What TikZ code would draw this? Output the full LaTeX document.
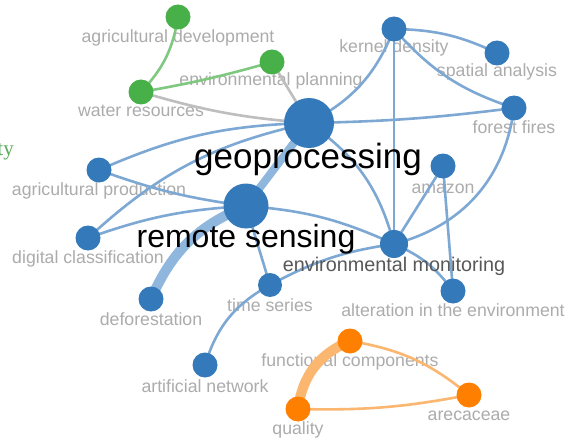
\documentclass[tikz,border=0pt]{standalone}
\usepackage{fontspec}
\setmainfont{Liberation Sans}
\setsansfont{Liberation Sans}
\newfontfamily\serifgreen{Liberation Serif}
\definecolor{nblue}{RGB}{52,122,186}
\definecolor{eblue}{RGB}{125,168,212}
\definecolor{ethick}{RGB}{143,183,222}
\definecolor{ngreen}{RGB}{72,176,72}
\definecolor{egreen}{RGB}{128,200,128}
\definecolor{egray}{RGB}{190,190,190}
\definecolor{norange}{RGB}{255,128,0}
\definecolor{eorange}{RGB}{251,182,112}
\definecolor{lgray}{RGB}{172,172,172}
\definecolor{ldark}{RGB}{88,88,88}
\definecolor{tgreen}{RGB}{92,170,92}
\pgfdeclarelayer{paper}
\pgfdeclarelayer{labels}
\pgfdeclarelayer{edges}
\pgfdeclarelayer{top}
\pgfsetlayers{paper,labels,edges,main,top}
\begin{document}
\begin{tikzpicture}[x=1pt,y=1pt,
  dot/.style={circle,inner sep=0pt,minimum size=25pt},
  bdot/.style={dot,fill=nblue},
  gdot/.style={dot,fill=ngreen},
  odot/.style={dot,fill=norange},
  lab/.style={text=lgray,anchor=base,inner sep=0pt,font=\fontsize{17.7}{20}\selectfont},
  biglab/.style={text=black,anchor=base,inner sep=0pt},
  be/.style={draw=eblue,line width=2.6pt},
  bthick/.style={draw=ethick,line width=#1},
  ge/.style={draw=egreen,line width=2.6pt},
  gye/.style={draw=egray,line width=2.6pt},
  oe/.style={draw=eorange,line width=2.6pt},
  othick/.style={draw=eorange,line width=10pt}]
\useasboundingbox (0,0) rectangle (568,-444);
\clip (0,0) rectangle (568,-444);
\begin{pgfonlayer}{paper}
\fill[white] (0,0) rectangle (568,-444);
\end{pgfonlayer}

% nodes
\node[gdot] (agdev) at (178,-17) {};
\node[gdot] (envpl) at (272,-62) {};
\node[gdot] (water) at (141,-92) {};
\node[bdot,minimum size=50pt] (geo) at (309,-123) {};
\node[bdot] (kd) at (394,-29) {};
\node[bdot] (sa) at (497,-53) {};
\node[bdot] (ff) at (514,-108) {};
\node[bdot] (amz) at (443,-166) {};
\node[bdot] (agprod) at (99,-170) {};
\node[bdot,minimum size=45pt] (rs) at (246,-206) {};
\node[bdot] (dc) at (88,-238) {};
\node[bdot,minimum size=28pt] (em) at (394,-244) {};
\node[bdot] (alt) at (453,-291) {};
\node[bdot,minimum size=24pt] (ts) at (270,-285) {};
\node[bdot] (def) at (151,-299) {};
\node[bdot] (an) at (205,-365) {};
\node[odot] (fc) at (350,-341) {};
\node[odot] (are) at (469,-395) {};
\node[odot] (qual) at (298,-409) {};

% labels (under edges)
\begin{pgfonlayer}{labels}
\node[lab] (l-agdev) at (178,-43) {agricultural development};
\node[lab] (l-envpl) at (271,-86) {environmental planning};
\node[lab] (l-water) at (141,-117) {water resources};
\node[lab] (l-kd) at (394,-53) {kernel density};
\node[lab] (l-sa) at (497,-77) {spatial analysis};
\node[lab] (l-ff) at (514,-133) {forest fires};
\node[lab] (l-amz) at (443,-193) {amazon};
\node[lab] (l-agprod) at (99,-195) {agricultural production};
\node[lab] (l-dc) at (88,-263) {digital classification};
\node[lab] (l-alt) at (453,-316) {alteration in the environment};
\node[lab] (l-ts) at (270,-311) {time series};
\node[lab] (l-def) at (151,-325) {deforestation};
\node[lab] (l-an) at (205,-392) {artificial network};
\node[lab] (l-fc) at (350,-366) {functional components};
\node[lab] (l-are) at (469,-420) {arecaceae};
\node[lab] (l-qual) at (298,-434) {quality};
\node[text=tgreen,anchor=base east,inner sep=0pt,font=\serifgreen\fontsize{21}{24}\selectfont] (l-ty) at (14,-155) {ty};
\end{pgfonlayer}

% edges
\begin{pgfonlayer}{edges}
\draw[ge] (water.center) to[bend right=17] (agdev.center);
\draw[ge] (water.center) to[bend right=3] (envpl.center);
\draw[gye] (water.center) to[bend right=6] (geo.center);
\draw[gye] (envpl.center) -- (geo.center);
\draw[be] (geo.center) to[bend right=20] (kd.center);
\draw[be] (geo.center) to[bend right=3] (ff.center);
\draw[be] (geo.center) to[bend left=20] (em.center);
\draw[be] (agprod.center) to[bend left=11] (geo.center);
\draw[be] (dc.center) to[bend left=15] (geo.center);
\draw[be] (agprod.center) to[bend right=6] (rs.center);
\draw[be] (dc.center) to[bend left=8] (rs.center);
\draw[be] (kd.center) to[bend left=12] (sa.center);
\draw[be] (kd.center) to[bend right=15] (ff.center);
\draw[be] (kd.center) -- (em.center);
\draw[be] (ff.center) to[bend left=34] (em.center);
\draw[be] (amz.center) -- (em.center);
\draw[be] (amz.center) -- (alt.center);
\draw[be] (em.center) to[bend left=15] (alt.center);
\draw[be] (rs.center) to[bend left=10] (em.center);
\draw[be] (ts.center) to[bend left=10] (em.center);
\draw[be] (rs.center) -- (ts.center);
\draw[be] (ts.center) to[bend right=22] (an.center);
\draw[bthick=10pt] (def.center) to[bend left=22] (rs.center);
\draw[bthick=8pt] (rs.center) -- (geo.center);
\draw[othick] (fc.center) to[bend right=30] (qual.center);
\draw[oe] (fc.center) to[bend left=15] (are.center);
\draw[oe] (qual.center) to[bend right=6] (are.center);
\end{pgfonlayer}

% dark labels on top
\begin{pgfonlayer}{top}
\node[biglab,font=\fontsize{35}{40}\selectfont] (l-geo) at (308,-168) {geoprocessing};
\node[biglab,font=\fontsize{32}{36}\selectfont] (l-rs) at (246,-247) {remote sensing};
\node[biglab,text=ldark,font=\fontsize{19.8}{22}\selectfont] (l-em) at (394,-271) {environmental monitoring};
\end{pgfonlayer}
\end{tikzpicture}
\end{document}
